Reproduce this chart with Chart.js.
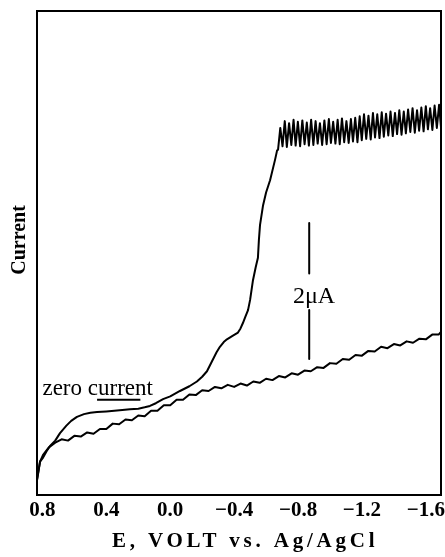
<!DOCTYPE html>
<html>
<head>
<meta charset="utf-8">
<script src="https://cdn.jsdelivr.net/npm/chart.js@4.4.1/dist/chart.umd.min.js"></script>
<style>
  html, body { margin: 0; padding: 0; background: #fff; }
  canvas { display: block; }
</style>
</head>
<body>
<canvas id="polarogram" width="445" height="557"></canvas>
<script>
// potential in V vs Ag/AgCl, current in uA
const riseV = [0.834, 0.815, 0.796, 0.775, 0.752, 0.72, 0.69, 0.65, 0.62, 0.584, 0.54, 0.50, 0.458, 0.40, 0.35, 0.30, 0.252, 0.20, 0.16, 0.127, 0.09, 0.045, 0.0, -0.061, -0.12, -0.167, -0.20, -0.23, -0.26, -0.29, -0.311, -0.335, -0.355, -0.39, -0.424, -0.44, -0.455, -0.47, -0.487, -0.50, -0.518, -0.535, -0.549, -0.555, -0.562, -0.581, -0.60, -0.625, -0.656, -0.669];
const riseI = [0.22, 0.49, 0.55, 0.64, 0.72, 0.80, 0.91, 1.02, 1.09, 1.15, 1.19, 1.21, 1.22, 1.23, 1.24, 1.25, 1.26, 1.27, 1.29, 1.31, 1.35, 1.41, 1.45, 1.53, 1.60, 1.67, 1.74, 1.82, 1.96, 2.10, 2.18, 2.25, 2.29, 2.34, 2.39, 2.45, 2.53, 2.62, 2.72, 2.87, 3.16, 3.35, 3.49, 3.75, 3.97, 4.26, 4.45, 4.63, 4.93, 5.07];

// drop oscillations on the limiting current (trough, peak, trough, peak ...)
const rippleV = [-0.675, -0.689, -0.703, -0.717, -0.730, -0.744, -0.758, -0.772, -0.785, -0.799, -0.813, -0.827, -0.841, -0.855, -0.868, -0.882, -0.896, -0.910, -0.923, -0.937, -0.951, -0.965, -0.979, -0.993, -1.006, -1.020, -1.034, -1.048, -1.061, -1.075, -1.089, -1.103, -1.117, -1.131, -1.144, -1.158, -1.172, -1.186, -1.199, -1.213, -1.227, -1.241, -1.255, -1.269, -1.282, -1.296, -1.310, -1.324, -1.337, -1.351, -1.365, -1.379, -1.393, -1.407, -1.420, -1.434, -1.448, -1.462, -1.475, -1.489, -1.503, -1.517, -1.531, -1.545, -1.558, -1.572, -1.586, -1.600, -1.613, -1.627, -1.641, -1.655, -1.669, -1.683, -1.695];
const rippleI = [5.08, 5.40, 5.13, 5.50, 5.12, 5.47, 5.15, 5.52, 5.14, 5.49, 5.13, 5.51, 5.16, 5.48, 5.14, 5.52, 5.15, 5.50, 5.17, 5.47, 5.15, 5.51, 5.16, 5.53, 5.18, 5.49, 5.17, 5.52, 5.16, 5.54, 5.19, 5.50, 5.18, 5.53, 5.20, 5.55, 5.19, 5.57, 5.22, 5.60, 5.24, 5.58, 5.23, 5.62, 5.26, 5.60, 5.25, 5.63, 5.27, 5.61, 5.29, 5.64, 5.28, 5.62, 5.31, 5.66, 5.30, 5.64, 5.32, 5.67, 5.34, 5.69, 5.33, 5.66, 5.36, 5.70, 5.35, 5.72, 5.38, 5.69, 5.37, 5.73, 5.40, 5.74, 5.41];

// lower trace (zero current line)
const zeroV = [0.834, 0.815, 0.796, 0.76, 0.72, 0.68, 0.64, 0.60, 0.56, 0.52, 0.48, 0.44, 0.40, 0.36, 0.32, 0.28, 0.24, 0.20, 0.16, 0.12, 0.08, 0.04, 0.0, -0.04, -0.08, -0.12, -0.16, -0.20, -0.24, -0.28, -0.32, -0.36, -0.40, -0.44, -0.48, -0.52, -0.56, -0.60, -0.64, -0.68, -0.72, -0.76, -0.80, -0.84, -0.88, -0.92, -0.96, -1.00, -1.04, -1.08, -1.12, -1.16, -1.20, -1.24, -1.28, -1.32, -1.36, -1.40, -1.44, -1.48, -1.52, -1.56, -1.60, -1.64, -1.68, -1.695];
const zeroI = [0.22, 0.49, 0.59, 0.70, 0.77, 0.82, 0.80, 0.87, 0.86, 0.92, 0.90, 0.97, 0.97, 1.05, 1.04, 1.11, 1.10, 1.17, 1.16, 1.24, 1.24, 1.32, 1.32, 1.40, 1.40, 1.48, 1.47, 1.54, 1.53, 1.59, 1.57, 1.62, 1.59, 1.64, 1.61, 1.67, 1.65, 1.71, 1.69, 1.75, 1.73, 1.79, 1.77, 1.83, 1.82, 1.88, 1.87, 1.94, 1.93, 2.00, 1.99, 2.06, 2.05, 2.12, 2.11, 2.18, 2.16, 2.22, 2.20, 2.26, 2.24, 2.30, 2.29, 2.36, 2.36, 2.40];

// 2 uA scale bar (gap for its label) and the short zero-current mark
const barV = [-0.87, -0.87, -0.87, -0.87, -0.87];
const barI = [4.0, 3.26, null, 2.72, 2.0];
const markV = [0.458, 0.187];
const markI = [1.40, 1.40];

const tickValues = [0.8, 0.4, 0.0, -0.4, -0.8, -1.2, -1.6];
const tickLabels = ['0.8', '0.4', '0.0', '−0.4', '−0.8', '−1.2', '−1.6'];

const pts = (vs, is) => vs.map((v, k) => ({ x: v, y: is[k] }));
const serif = '"Liberation Serif", "Times New Roman", serif';

const trace = {
  borderColor: '#000',
  borderWidth: 2,
  pointRadius: 0,
  borderJoinStyle: 'round',
  tension: 0
};

// frame, labels
const decor = {
  id: 'decor',
  afterDatasetsDraw(chart) {
    const { ctx, chartArea: a, scales: { x, y } } = chart;
    ctx.save();
    ctx.strokeStyle = '#000';
    ctx.lineWidth = 2;
    ctx.strokeRect(a.left, a.top, a.right - a.left, a.bottom - a.top);

    ctx.fillStyle = '#000';
    ctx.textBaseline = 'alphabetic';
    ctx.textAlign = 'left';
    ctx.font = '23px ' + serif;
    ctx.fillText('zero current', x.getPixelForValue(0.80), y.getPixelForValue(1.47));

    ctx.textAlign = 'center';
    ctx.font = '24px ' + serif;
    ctx.fillText('2\u03bcA', x.getPixelForValue(-0.90), y.getPixelForValue(2.82));

    ctx.textAlign = 'left';
    ctx.font = 'bold 21px ' + serif;
    ctx.letterSpacing = '3.8px';
    ctx.fillText('E, VOLT vs. Ag/AgCl', 112, 547);
    ctx.letterSpacing = '0px';

    ctx.translate(20, 240);
    ctx.rotate(-Math.PI / 2);
    ctx.textAlign = 'center';
    ctx.textBaseline = 'middle';
    ctx.font = 'bold 20px ' + serif;
    ctx.fillText('Current', 0, 0);
    ctx.restore();
  }
};

new Chart(document.getElementById('polarogram'), {
  type: 'line',
  data: {
    datasets: [
      { ...trace, data: pts(riseV.concat(rippleV), riseI.concat(rippleI)) },
      { ...trace, data: pts(zeroV, zeroI) },
      { ...trace, spanGaps: false, data: pts(barV, barI) },
      { ...trace, data: pts(markV, markI) }
    ]
  },
  options: {
    responsive: false,
    animation: false,
    layout: { padding: { top: 11, right: 4, left: 37, bottom: 0 } },
    plugins: { legend: { display: false }, tooltip: { enabled: false } },
    scales: {
      x: {
        type: 'linear',
        reverse: true,
        min: -1.695,
        max: 0.834,
        grid: { display: false, drawTicks: false },
        border: { display: false },
        afterBuildTicks: s => { s.ticks = tickValues.map(v => ({ value: v })); },
        afterFit: s => { s.height = 62; s.paddingLeft = 0; s.paddingRight = 0; },
        ticks: {
          color: '#000',
          padding: 3,
          maxRotation: 0,
          autoSkip: false,
          font: { family: serif, size: 21, weight: 'bold' },
          callback: v => tickLabels[tickValues.indexOf(v)]
        }
      },
      y: { display: false, min: 0, max: 7.12 }
    }
  },
  plugins: [decor]
});
</script>
</body>
</html>
